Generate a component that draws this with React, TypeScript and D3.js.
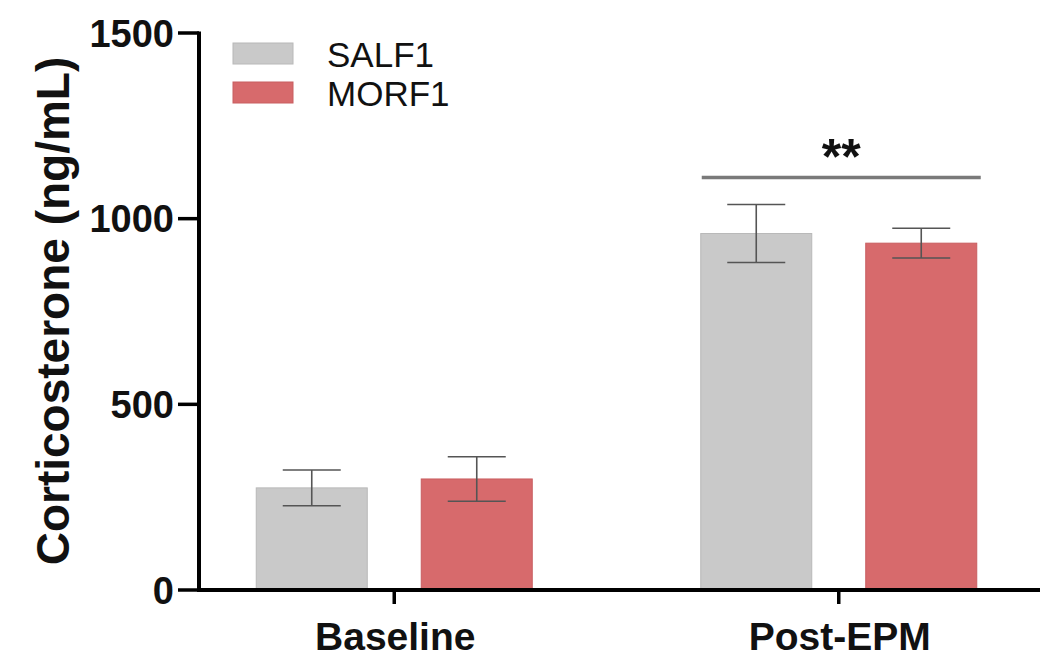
import React from "react";
import * as d3 from "d3";

const categories = ["Baseline", "Post-EPM"];
const seriesNames = ["SALF1", "MORF1"];
const salfMean = [275, 960];
const salfSem = [48, 78];
const morfMean = [299, 934];
const morfSem = [60, 40];
const yTicks = [0, 500, 1000, 1500];
const sigLabel = "**";
const sigLevel = 1111;

const colors: Record<string, string> = { SALF1: "#c9c9c9", MORF1: "#d76a6c" };
const strokes: Record<string, string> = { SALF1: "#b8b8b8", MORF1: "#c85e60" };

export default function App() {
  const W = 1050, H = 672;
  const font = "'Liberation Sans', Arial, sans-serif";
  const y = d3.scaleLinear().domain([0, 1500]).range([590, 33]);
  const x0 = d3.scaleBand().domain(categories).range([172, 1061]).padding(0);
  const groupW = 276;
  const x1 = d3.scaleBand().domain(seriesNames).range([0, groupW]).paddingInner(54 / 165).paddingOuter(0);
  const axisX0 = 199, axisX1 = 1040;

  const data = categories.flatMap((c, i) => [
    { cat: c, s: "SALF1", m: salfMean[i], e: salfSem[i] },
    { cat: c, s: "MORF1", m: morfMean[i], e: morfSem[i] },
  ]);

  const bx = (cat: string, s: string) => (x0(cat)! + x0.bandwidth() / 2 - groupW / 2 + x1(s)!);
  const bw = x1.bandwidth();
  const capW = 58;

  const post = categories[1];
  const sigX0 = bx(post, "SALF1") + 1;
  const sigX1 = bx(post, "MORF1") + bw + 4;

  return (
    <svg width={W} height={H} style={{ position: "absolute", left: 0, top: 0, background: "#fff" }} fontFamily={font}>
      {/* bars */}
      {data.map((d, i) => (
        <rect key={"b" + i} x={bx(d.cat, d.s)} y={y(d.m)} width={bw} height={y(0) - y(d.m)}
          fill={colors[d.s]} stroke={strokes[d.s]} strokeWidth={1} />
      ))}
      {/* error bars */}
      {data.map((d, i) => {
        const cx = bx(d.cat, d.s) + bw / 2;
        return (
          <g key={"e" + i} stroke="#555" strokeWidth={1.6}>
            <line x1={cx} x2={cx} y1={y(d.m + d.e)} y2={y(d.m - d.e)} />
            <line x1={cx - capW / 2} x2={cx + capW / 2} y1={y(d.m + d.e)} y2={y(d.m + d.e)} />
            <line x1={cx - capW / 2} x2={cx + capW / 2} y1={y(d.m - d.e)} y2={y(d.m - d.e)} />
          </g>
        );
      })}
      {/* y axis */}
      <line x1={axisX0} x2={axisX0} y1={y(1500) - 1.5} y2={y(0) + 2} stroke="#000" strokeWidth={4} />
      {yTicks.map((t) => (
        <g key={"t" + t}>
          <line x1={axisX0 - 21} x2={axisX0} y1={y(t)} y2={y(t)} stroke="#000" strokeWidth={3.5} />
          <text x={axisX0 - 25} y={y(t)} dy="0.36em" textAnchor="end" fontSize={38} fontWeight="bold" fill="#111">{t}</text>
        </g>
      ))}
      {/* x axis */}
      <line x1={axisX0 - 2} x2={axisX1} y1={y(0)} y2={y(0)} stroke="#000" strokeWidth={4} />
      {categories.map((c) => {
        const cx = x0(c)! + x0.bandwidth() / 2;
        return (
          <g key={"x" + c}>
            <line x1={cx} x2={cx} y1={y(0)} y2={y(0) + 14} stroke="#000" strokeWidth={3.5} />
            <text x={cx + 1} y={650} textAnchor="middle" fontSize={39} fontWeight="bold" fill="#111">{c}</text>
          </g>
        );
      })}
      {/* y label */}
      <text transform={`translate(69, 311) rotate(-90)`} textAnchor="middle" fontSize={46} fontWeight="bold" fill="#111">
        Corticosterone (ng/mL)
      </text>
      {/* significance */}
      <line x1={sigX0} x2={sigX1} y1={y(sigLevel)} y2={y(sigLevel)} stroke="#7a7a7a" strokeWidth={3.5} />
      <text x={(sigX0 + sigX1) / 2} y={174} textAnchor="middle" fontSize={50} fontWeight="bold" fill="#111">{sigLabel}</text>
      {/* legend */}
      {seriesNames.map((s, i) => (
        <g key={"l" + s} transform={`translate(233, ${43 + i * 39})`}>
          <rect width={60} height={21} fill={colors[s]} stroke={strokes[s]} strokeWidth={1} />
          <text x={94} y={11} dy="0.36em" fontSize={35} fill="#111">{s}</text>
        </g>
      ))}
    </svg>
  );
}
